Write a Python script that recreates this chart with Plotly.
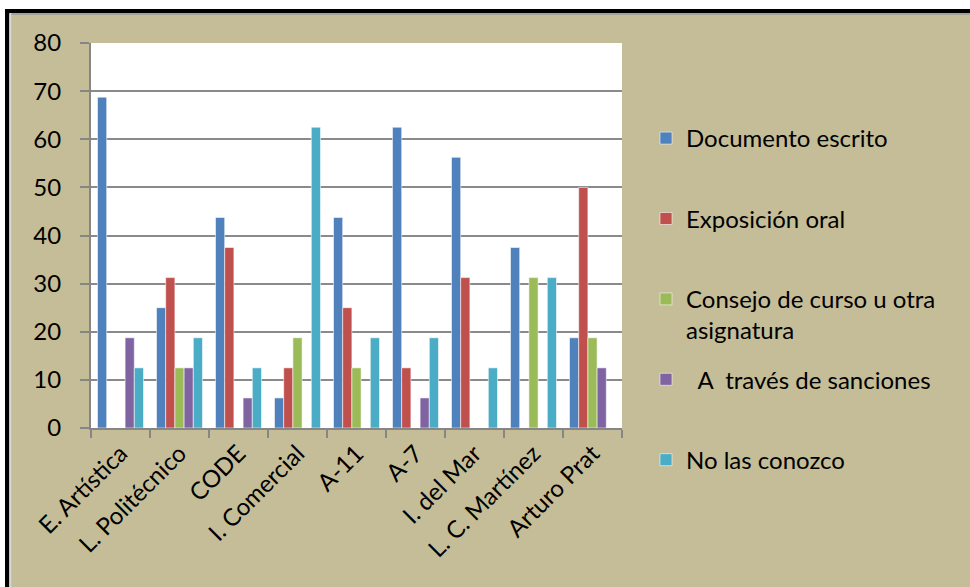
import plotly.graph_objects as go

categories = ["E. Artística", "L. Politécnico", "CODE", "I. Comercial", "A-11",
              "A-7", "I. del Mar", "L. C. Martínez", "Arturo Prat"]
documento_escrito = [68.75, 25, 43.75, 6.25, 43.75, 62.5, 56.25, 37.5, 18.75]
exposicion_oral = [0, 31.25, 37.5, 12.5, 25, 12.5, 31.25, 0, 50]
consejo_curso = [0, 12.5, 0, 18.75, 12.5, 0, 0, 31.25, 18.75]
sanciones = [18.75, 12.5, 6.25, 0, 0, 6.25, 0, 0, 12.5]
no_conozco = [12.5, 18.75, 12.5, 62.5, 18.75, 18.75, 12.5, 31.25, 0]
y_ticks = [0, 10, 20, 30, 40, 50, 60, 70, 80]

series = [
    ("Documento escrito<br>\u00a0", documento_escrito, "#4F81BD"),
    ("Exposición oral<br>\u00a0", exposicion_oral, "#C0504D"),
    ("Consejo de curso u otra<br>asignatura", consejo_curso, "#9BBB59"),
    ("\u00a0\u00a0A\u00a0 través de sanciones<br>\u00a0", sanciones, "#8064A2"),
    ("No las conozco<br>\u00a0", no_conozco, "#4BACC6"),
]

FONT = "Lato, 'Open Sans', sans-serif"
TAN = "#C4BD97"

fig = go.Figure()
for i, (name, vals, col) in enumerate(series):
    fig.add_trace(go.Bar(
        x=categories, y=vals, name=name, legendgroup=f"g{i}",
        marker=dict(color=col, line=dict(color="rgba(255,255,255,0.55)", width=1)),
    ))

W, H = 970, 587
L, R, T, B = 91, 622, 43, 428

def px_x(p):
    return (p - L) / (R - L)

def px_y(p):
    return (B - p) / (B - T)

shapes = [
    dict(type="rect", xref="paper", yref="paper", x0=px_x(0), x1=px_x(W), y0=px_y(9), y1=px_y(0),
         fillcolor="white", line=dict(width=0), layer="below"),
    dict(type="rect", xref="paper", yref="paper", x0=px_x(0), x1=px_x(5), y0=px_y(H), y1=px_y(0),
         fillcolor="white", line=dict(width=0), layer="below"),
    dict(type="line", xref="paper", yref="paper", x0=px_x(5), x1=px_x(W), y0=px_y(11), y1=px_y(11),
         line=dict(color="black", width=4)),
    dict(type="line", xref="paper", yref="paper", x0=px_x(7), x1=px_x(7), y0=px_y(9), y1=px_y(H),
         line=dict(color="black", width=4)),
    dict(type="line", xref="paper", yref="paper", x0=px_x(9), x1=px_x(W), y0=px_y(14), y1=px_y(14),
         line=dict(color="#9a9a9a", width=1.5)),
    dict(type="line", xref="paper", yref="paper", x0=px_x(10.5), x1=px_x(10.5), y0=px_y(13), y1=px_y(H),
         line=dict(color="#d8d8d8", width=1.5)),
]

fig.update_layout(
    width=W, height=H,
    margin=dict(l=L, r=W - R, t=T, b=H - B, pad=0),
    paper_bgcolor=TAN,
    plot_bgcolor="white",
    font=dict(family=FONT, size=24, color="black"),
    barmode="group",
    bargap=0.22,
    bargroupgap=0,
    shapes=shapes,
    showlegend=True,
    legend=dict(
        x=px_x(646), xanchor="left", y=px_y(116), yanchor="top",
        bgcolor="rgba(0,0,0,0)",
        font=dict(family=FONT, size=24, color="black"),
        tracegroupgap=15,
        valign="top",
        traceorder="grouped",
        itemwidth=30,
        maxheight=560,
    ),
    xaxis=dict(
        type="category",
        tickson="boundaries",
        ticks="outside", ticklen=8, tickwidth=2, tickcolor="#868686",
        showline=True, linecolor="#868686", linewidth=2,
        tickangle=-45,
        tickfont=dict(family=FONT, size=24, color="black"),
        showgrid=False,
    ),
    yaxis=dict(
        range=[0, 80],
        tickvals=y_ticks,
        ticks="outside", ticklen=9, tickwidth=2, tickcolor="#868686",
        showline=True, linecolor="#868686", linewidth=2,
        showgrid=True, gridcolor="#8a8a8a", gridwidth=2,
        zeroline=False,
        tickfont=dict(family=FONT, size=24, color="black"),
        ticklabelstandoff=14,
    ),
)

fig.write_html("out.html", config={"displayModeBar": False},
               post_script="document.body.style.margin='0';")
